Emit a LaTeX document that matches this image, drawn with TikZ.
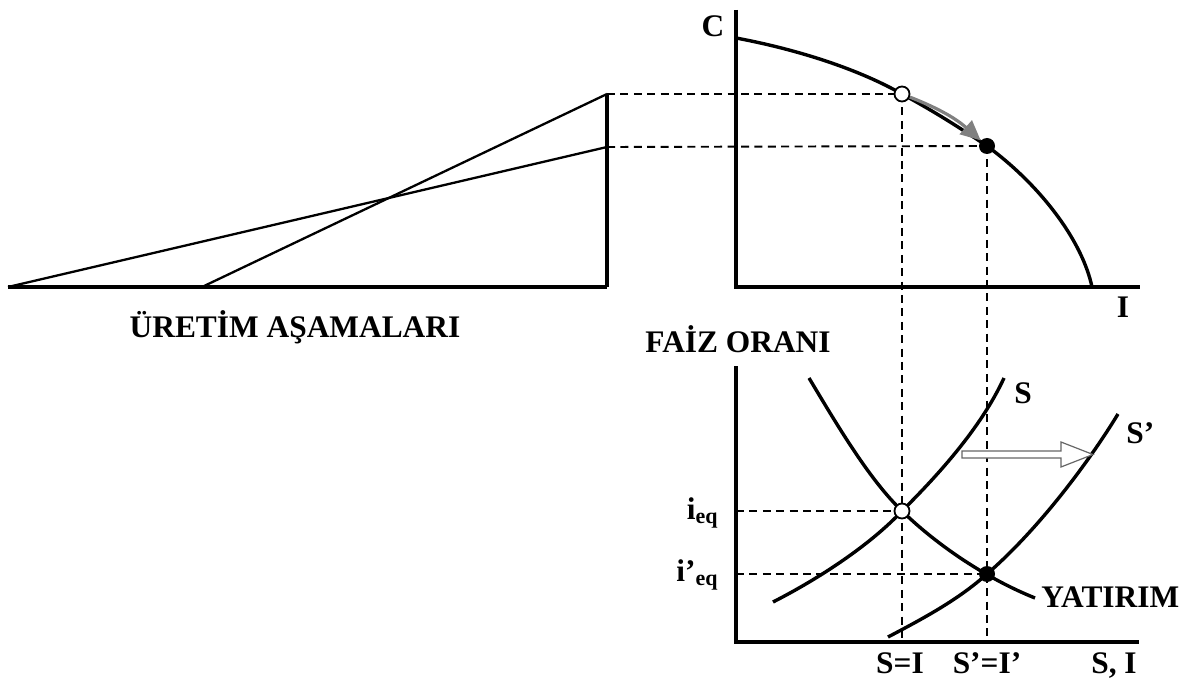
\documentclass[tikz,border=0pt]{standalone}
\usepackage{fontspec}
\setmainfont{Liberation Serif}
\usetikzlibrary{arrows.meta}
\begin{document}
\begin{tikzpicture}[x=0.5pt,y=-0.5pt,
  axis/.style={line width=2.3pt},
  curve/.style={line width=1.7pt},
  thinline/.style={line width=1.15pt},
  guide/.style={line width=0.95pt,dash pattern=on 4pt off 2.7pt},
  lbl/.style={font=\bfseries\fontsize{15.7}{18}\selectfont, inner sep=0pt},
  hollowdot/.style={circle,draw,fill=white,line width=0.9pt,minimum size=7.5pt,inner sep=0pt},
  fulldot/.style={circle,fill=black,minimum size=8pt,inner sep=0pt},
  grayarrow/.style={draw=black!50,line width=1.6pt,-{Triangle[length=10pt,width=9pt]}},
  shiftarrow/.style={draw=black!60,fill=white,line width=0.6pt}]
\useasboundingbox (0,0) rectangle (1189,679);

% ---------- left panel ----------
\coordinate (L0) at (8,287);
\coordinate (L1) at (202,287);
\coordinate (R0) at (607,287);
\coordinate (Rt) at (607,94);
\coordinate (Rm) at (607,147);
\draw[axis] (L0) -- (R0);
\draw[curve] (R0) -- (Rt);
\draw[thinline] (L0) -- (Rm);
\draw[thinline] (L1) -- (Rt);
\node[lbl,anchor=base] (uretim) at (295,337) {ÜRETİM AŞAMALARI};

% ---------- key points ----------
\coordinate (a) at (902,94);
\coordinate (b) at (987,146);
\coordinate (e1) at (902,511);
\coordinate (e2) at (987,574);
\coordinate (abot) at (902,641);
\coordinate (bbot) at (987,641);
\coordinate (ie1) at (736,511);
\coordinate (ie2) at (736,574);

% ---------- guides ----------
\draw[guide] (Rt) -- (a);
\draw[guide] (Rm) -- (b);
\draw[guide] (a) -- (abot);
\draw[guide] (b) -- (bbot);
\draw[guide] (ie1) -- (e1);
\draw[guide] (ie2) -- (e2);

% ---------- top-right panel ----------
\coordinate (Ctop) at (736,10);
\coordinate (O1) at (736,287);
\coordinate (Iend) at (1140,287);
\draw[axis] (Ctop) -- (O1) -- (Iend);
\node[lbl,anchor=base] (Clab) at (713,37) {C};
\node[lbl,anchor=base] (Ilab) at (1123,318) {I};
\draw[curve] (736,38) .. controls (800,50) and (860,70) .. (a)
  .. controls (935,112) and (957,126) .. (b)
  .. controls (1040,185) and (1082,240) .. (1092,287);
\node[hollowdot] (A) at (a) {};
\node[fulldot] (B) at (b) {};
\draw[grayarrow] (A) to[bend left=10] (B);

% ---------- bottom panel ----------
\coordinate (Ftop) at (736,366);
\coordinate (O2) at (736,642);
\coordinate (SIend) at (1139,642);
\draw[axis] (Ftop) -- (O2) -- (SIend);
\node[lbl,anchor=base] (faiz) at (738,352) {FAİZ ORANI};

% investment curve
\draw[curve] (809,378) .. controls (840,430) and (870,480) .. (e1)
  .. controls (940,548) and (990,580) .. (1035,598);
% saving curve S
\draw[curve] (773,602) .. controls (820,578) and (870,545) .. (e1)
  .. controls (935,478) and (980,430) .. (1004,378);
% saving curve S'
\draw[curve] (888,637) .. controls (930,615) and (960,598) .. (e2)
  .. controls (1040,528) and (1090,460) .. (1118,414);

\node[hollowdot] (E1) at (e1) {};
\node[fulldot] (E2) at (e2) {};

% hollow shift arrow
\draw[shiftarrow] (962,451) -- (1061,451) -- (1061,442) -- (1093,454.5) -- (1061,467) -- (1061,458) -- (962,458) -- cycle;

\node[lbl,anchor=base] (Slab) at (1023,403) {S};
\node[lbl,anchor=base west] (Splab) at (1126,443) {S’};
\node[lbl,anchor=base west] (Ilab2) at (1041,607) {YATIRIM};
\node[lbl,anchor=base] (SeqI) at (900,673) {S=I};
\node[lbl,anchor=base] (SpeqIp) at (987,673) {S’=I’};
\node[lbl,anchor=base] (SIlab) at (1114,673) {S, I};
\node[lbl,anchor=base east] (ieq) at (719,519) {i\textsubscript{eq}};
\node[lbl,anchor=base east] (ipeq) at (719,581) {i’\textsubscript{eq}};
\end{tikzpicture}
\end{document}
